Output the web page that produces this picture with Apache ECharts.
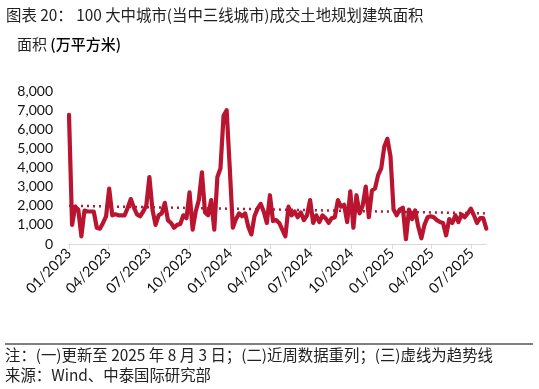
<!DOCTYPE html>
<html>
<head>
<meta charset="utf-8">
<script src="https://cdn.jsdelivr.net/npm/echarts@6.0.0/dist/echarts.min.js"></script>
<style>
html,body{margin:0;padding:0;background:#fff;}
#chart{width:539px;height:389px;}
</style>
</head>
<body>
<div id="chart"></div>
<script>
// Weekly series (week ending Sundays), first week 2023-01-01, last 2025-08-03
var firstWeek = '2023-01-01';
var values = [
  6750, 1000, 1950, 1800, 400, 1750, 1700, 1700, 1700, 850,
  800, 1100, 1450, 2900, 1500, 1550, 1500, 1500, 1500, 1900,
  2350, 1900, 1550, 1450, 1700, 2000, 3500, 1800, 1000, 1500,
  1600, 2150, 1250, 1100, 850, 1000, 1050, 1500, 1350, 2700,
  750, 1700, 2300, 3750, 1650, 1500, 2300, 750, 3500, 3950,
  6700, 7000, 4000, 850, 1300, 1600, 1450, 1600, 900, 500,
  1450, 1850, 2100, 1700, 1100, 2550, 1200, 1250, 1100, 750,
  400, 1950, 1500, 1700, 1400, 1650, 1250, 1500, 2300, 1100,
  1500, 1150, 1500, 1350, 1100, 1350, 1400, 2300, 1950, 2050,
  1150, 2750, 850, 2550, 1600, 2000, 3000, 1400, 2800, 2900,
  3600, 3950, 5100, 5500, 4600, 1800, 1500, 1800, 1900, 250,
  1800, 1300, 1750, 900, 300, 1000, 1400, 1450, 1400, 1250,
  1150, 1100, 450, 1300, 1100, 1500, 1150, 1550, 1400, 1600,
  1850, 1500, 1100, 1350, 1350, 800
];
// Trend line end points
var trendDates = ['2023-01-01', '2025-08-03'];
var trendValues = [2000, 1600];
// Axis ticks
var tickDates = ['2023-01-01','2023-04-01','2023-07-01','2023-10-01','2024-01-01','2024-04-01',
                 '2024-07-01','2024-10-01','2025-01-01','2025-04-01','2025-07-01'];

function parseD(s){ var p = s.split('-'); return Date.UTC(+p[0], +p[1]-1, +p[2]); }
var DAY = 86400000;
var start = parseD(firstWeek);
var lineData = values.map(function(v, i){ return [start + 7*i*DAY, v]; });
var trendData = trendDates.map(function(d, i){ return [parseD(d), trendValues[i]]; });
var tickTs = tickDates.map(parseD);
var axisEnd = parseD('2025-08-03');

var FONT = 'Lato, "Noto Sans CJK SC", sans-serif';
var CJK = '"Noto Sans CJK SC", Lato, sans-serif';

var chart = echarts.init(document.getElementById('chart'), null, {renderer:'canvas'});
chart.setOption({
  animation: false,
  backgroundColor: '#fff',
  grid: {left: 69, right: 52.7, top: 91, bottom: 145},
  graphic: [
    {type:'text', left: 6, top: 7, style:{text:'图表 20： 100 大中城市(当中三线城市)成交土地规划建筑面积', font:'15.4px ' + CJK, fill:'#222'}},
    {type:'text', left: 17, top: 37, style:{
      text:'{a|面积 }{b|(万平方米)}',
      rich:{a:{font:'15px ' + CJK, fill:'#222'}, b:{font:'500 15px ' + CJK, fill:'#000'}}
    }},
    {type:'line', shape:{x1:5, y1:344, x2:533, y2:344}, style:{stroke:'#555', lineWidth:1.5}},
    {type:'text', left: 5, top: 347, style:{text:'注：(一)更新至 2025 年 8 月 3 日；(二)近周数据重列；(三)虚线为趋势线', font:'15.4px ' + CJK, fill:'#222'}},
    {type:'text', left: 5, top: 367, style:{text:'来源：Wind、中泰国际研究部', font:'15.4px ' + CJK, fill:'#222'}}
  ],
  xAxis: {
    type: 'value',
    min: start,
    max: axisEnd,
    splitLine: {show:false},
    axisLine: {show:true, onZero:false, lineStyle:{color:'#d9d9d9', width:1}},
    axisTick: {show:true, length:5, lineStyle:{color:'#d9d9d9'}, customValues: tickTs},
    axisLabel: {
      customValues: tickTs,
      rotate: 45,
      margin: 7,
      fontSize: 14.5,
      fontFamily: FONT,
      color: '#111',
      formatter: function(v){
        var d = new Date(v); var m = d.getUTCMonth()+1;
        return (m < 10 ? '0' + m : '' + m) + '/' + d.getUTCFullYear();
      }
    }
  },
  yAxis: {
    type: 'value',
    min: 0, max: 8000, interval: 1000,
    splitLine: {show:false},
    axisLine: {show:false},
    axisTick: {show:false},
    axisLabel: {
      margin: 16,
      fontSize: 14,
      fontFamily: FONT,
      color: '#111',
      formatter: function(v){ return Number(v).toLocaleString('en-US'); }
    }
  },
  series: [
    {
      type: 'line',
      data: trendData,
      showSymbol: false,
      z: 1,
      lineStyle: {color:'#BA1530', width:2.5, type:[2,4]}
    },
    {
      type: 'line',
      data: lineData,
      showSymbol: false,
      z: 2,
      lineStyle: {color:'#BA1530', width:4.2, join:'round', cap:'round'}
    }
  ]
});
</script>
</body>
</html>
